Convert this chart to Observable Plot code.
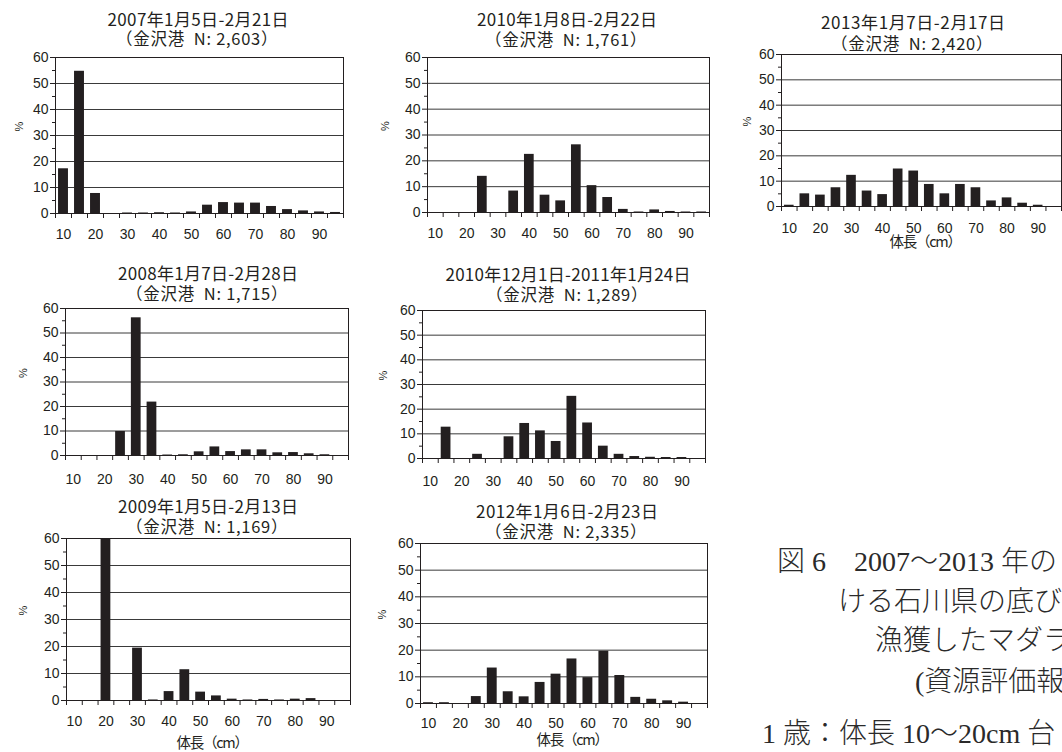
<!DOCTYPE html>
<html><head><meta charset="utf-8">
<script src="https://cdn.jsdelivr.net/npm/d3@7"></script>
<script src="https://cdn.jsdelivr.net/npm/@observablehq/plot@0.6"></script>
<style>
body{margin:0;background:#fff;}
#root{position:relative;width:1062px;height:752px;overflow:hidden;background:#fff;}
.t{position:absolute;white-space:pre;transform:translateY(-50%);font-family:"Noto Sans CJK JP",sans-serif;color:#231f20;line-height:1;}
.cap{position:absolute;white-space:pre;transform:translateY(-50%);font-family:"Liberation Serif","Noto Sans CJK JP",serif;font-weight:300;color:#2a2a2a;line-height:1;}
.p{position:absolute;}
.p svg{overflow:visible;max-width:none !important;}
.p svg text{font-size:14px !important;font-family:"Liberation Sans",Arial,sans-serif !important;}
.p svg g[aria-label="text"] text{font-size:11px !important;}
</style></head><body><div id="root"></div>
<script>
// ---- data ----
const lengths = [10,15,20,25,30,35,40,45,50,55,60,65,70,75,80,85,90,95];
const xTickLabels = [10,20,30,40,50,60,70,80,90];
const yTicks = [0,10,20,30,40,50,60];
const pct2007 = [17.2,54.7,7.7,0,0.2,0.2,0.3,0.2,0.6,3.2,4.2,4.0,4.0,2.7,1.5,1.0,0.6,0.4];
const pct2008 = [0,0,0,9.8,56.2,21.8,0.2,0.3,1.5,3.5,1.6,2.3,2.3,1.1,1.2,0.7,0.3,0];
const pct2009 = [0,0,60,0,19.4,0.2,3.3,11.4,3.1,1.7,0.5,0.2,0.4,0.2,0.5,0.7,0,0];
const pct2010a = [0,0,0,14.0,0,8.3,22.5,6.7,4.5,26.2,10.4,5.8,1.2,0.2,1.0,0.4,0.2,0.2];
const pct2010b = [0,12.7,0,1.7,0,8.8,14.2,11.2,6.9,25.2,14.4,5.0,1.7,0.8,0.5,0.4,0.4,0];
const pct2012 = [0.3,0.3,0,2.6,13.3,4.4,2.5,7.9,11.0,16.7,9.7,19.6,10.5,2.3,1.6,1.0,0.5,0];
const pct2013 = [0.5,5.0,4.5,7.4,12.3,6.1,4.7,14.8,14.0,8.7,5.0,8.7,7.4,2.2,3.4,1.3,0.5,0];
const periods = ["2007年1月5日-2月21日","2008年1月7日-2月28日","2009年1月5日-2月13日","2010年1月8日-2月22日","2010年12月1日-2011年1月24日","2012年1月6日-2月23日","2013年1月7日-2月17日"];
const sampleN = ["2,603","1,715","1,169","1,761","1,289","2,335","2,420"];
const port = "金沢港";
const yLabel = "%";
const xLabel = "体長（cm）";
const captionLines = ["図 6　2007〜2013 年の","ける石川県の底び","漁獲したマダラ","(資源評価報","1 歳：体長 10〜20cm 台"];

// ---- layout (pixel positions / ink widths) ----
const layout = [
  {v:pct2007, L:55,  R:343,  T:57,  B:213, cx:197, ty:[18,37],   tw:179, pd:36, lo:16,   xl:null},
  {v:pct2008, L:65,  R:348,  T:308, B:455, cx:207, ty:[272,292], tw:178, pd:42, lo:18.5, xl:null},
  {v:pct2009, L:66,  R:350,  T:538, B:700, cx:207, ty:[505,525], tw:178, pd:43, lo:16,   xl:[208,742]},
  {v:pct2010a,L:427, R:709,  T:57,  B:212, cx:566, ty:[18,38],   tw:178, pd:42, lo:16,   xl:null},
  {v:pct2010b,L:422, R:705,  T:310, B:458, cx:567, ty:[273,293], tw:243, pd:39, lo:18,   xl:null},
  {v:pct2012, L:420, R:707,  T:543, B:703, cx:566, ty:[510,530], tw:180, pd:38, lo:14.5, xl:[568,739]},
  {v:pct2013, L:781, R:1061, T:54,  B:206, cx:912, ty:[21,42],   tw:182, pd:34, lo:17,   xl:[921,241]}
];
const caption = [[777,562],[838,602],[875,641],[915,682],[762,734]];

const root = document.getElementById("root");
const ctx = document.createElement("canvas").getContext("2d");
// place text so that its ink is centred at cx and (optionally) spans targetInk px
function label(text, cx, cy, size, targetInk) {
  const d = document.createElement("div");
  d.className = "t"; d.textContent = text;
  d.style.fontSize = size + "px";
  ctx.font = `${size}px "Noto Sans CJK JP"`;
  const m = ctx.measureText(text);
  const n = [...text].length;
  const ink = m.actualBoundingBoxLeft + m.actualBoundingBoxRight;
  const ls = targetInk ? (targetInk - ink) / (n - 1) : 0;
  d.style.letterSpacing = ls + "px";
  const inkCenter = (-m.actualBoundingBoxLeft + m.actualBoundingBoxRight + ls * (n - 1)) / 2;
  d.style.left = (cx - inkCenter) + "px"; d.style.top = cy + "px";
  root.appendChild(d);
}
const bounds = d3.range(7.5, 98, 5);
const minor = [5,15,25,35,45,55];
const ink = "#231f20";

layout.forEach((p, i) => {
  const mL = 50, mR = 1, mT = 6, mB = 36;
  const data = lengths.map((len, k) => ({len, pct: p.v[k]}));
  const svg = Plot.plot({
    width: (p.R - p.L) + mL + mR, height: (p.B - p.T) + mT + mB,
    marginLeft: mL, marginRight: mR, marginTop: mT, marginBottom: mB,
    x: {type: "linear", domain: [7.5, 97.5]},
    y: {domain: [0, 60]},
    style: {fontFamily: "'Liberation Sans', Arial, sans-serif", fontSize: "14px", color: ink, background: "transparent"},
    marks: [
      Plot.ruleY([10,20,30,40,50], {stroke: "#3a3a3a", strokeWidth: 1}),
      Plot.ruleY([60], {stroke: ink}),
      Plot.ruleX([97.5], {stroke: ink}),
      Plot.rect(data, {x1: d => d.len - 1.55, x2: d => d.len + 1.55, y1: 0, y2: "pct", fill: ink}),
      Plot.ruleY([0], {stroke: ink}),
      Plot.ruleX([7.5], {stroke: ink}),
      Plot.axisY({ticks: yTicks, tickSize: 5, tickPadding: 2, label: null, stroke: ink, fontSize: 14}),
      Plot.axisY({ticks: minor, tickSize: 3, tickFormat: () => "", label: null, stroke: ink}),
      Plot.axisX({ticks: bounds, tickSize: 5, tickFormat: () => "", label: null, stroke: ink}),
      Plot.axisX({ticks: xTickLabels, tickSize: 0, tickPadding: p.lo, label: null, fontSize: 14}),
      Plot.text([yLabel], {frameAnchor: "left", dx: -p.pd, dy: -4, rotate: -90, fill: ink, fontSize: 11})
    ]
  });
  const wrap = document.createElement("div");
  wrap.className = "p";
  wrap.style.left = (p.L - mL) + "px"; wrap.style.top = (p.T - mT) + "px";
  wrap.style.width = svg.getAttribute("width") + "px";
  wrap.appendChild(svg);
  root.appendChild(wrap);
  label(periods[i], p.cx, p.ty[0], 17, p.tw);
  label("（" + port + "  N: " + sampleN[i] + "）", p.cx, p.ty[1] + 0.5, 16.5, 140);
  if (p.xl) label(xLabel, p.xl[0], p.xl[1], 14.5, 63);
});
captionLines.forEach((s, i) => {
  const d = document.createElement("div");
  d.className = "cap"; d.textContent = s; d.style.fontSize = "28px";
  d.style.left = caption[i][0] + "px"; d.style.top = caption[i][1] + "px";
  root.appendChild(d);
});
</script></body></html>
